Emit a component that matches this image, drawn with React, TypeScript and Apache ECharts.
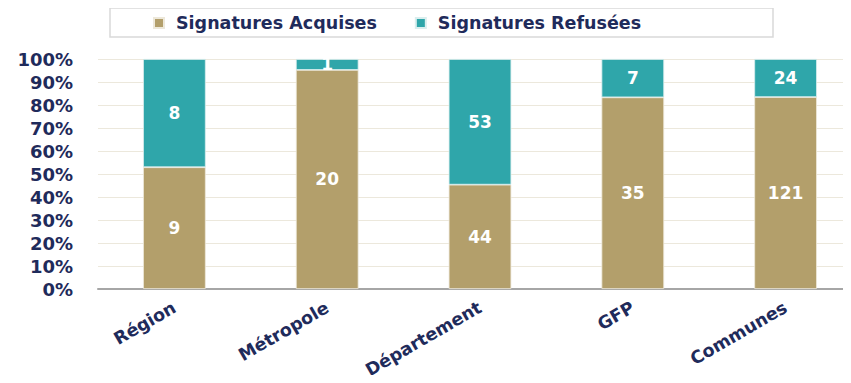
import React, { useEffect, useRef } from "react";
import * as echarts from "echarts";

const categories = ["Région", "Métropole", "Département", "GFP", "Communes"];
const acquises = [9, 20, 44, 35, 121];
const refusees = [8, 1, 53, 7, 24];
const yTicks = [0, 10, 20, 30, 40, 50, 60, 70, 80, 90, 100];
const seriesNames = ["Signatures Acquises", "Signatures Refusées"];

const NAVY = "#1F2B5B";
const TAN = "#B39F6B";
const TEAL = "#2FA6AA";
const FONT = "DejaVu Sans";

export default function App() {
  const ref = useRef<HTMLDivElement>(null);
  useEffect(() => {
    if (!ref.current) return;
    const chart = echarts.init(ref.current, undefined, { renderer: "svg" });
    const totals = acquises.map((a, i) => a + refusees[i]);
    const pct = (arr: number[]) => arr.map((v, i) => (v / totals[i]) * 100);
    const labelCfg = (arr: number[]) => ({
      show: true,
      position: "inside" as const,
      color: "#FFFFFF",
      fontFamily: FONT,
      fontWeight: "bold" as const,
      fontSize: 17,
      overflow: "none" as const,
      formatter: (p: any) => String(arr[p.dataIndex]),
    });
    chart.setOption({
      animation: false,
      backgroundColor: "#FFFFFF",
      graphic: [
        {
          type: "rect",
          shape: { x: 110, y: 8, width: 663, height: 29 },
          style: { fill: "none", stroke: "#D9D9D9", lineWidth: 1.5 },
          z: -1,
        },
      ],
      legend: {
        left: 148,
        top: 9,
        icon: "rect",
        itemWidth: 10,
        itemHeight: 10,
        itemGap: 38,
        data: seriesNames,
        textStyle: {
          color: NAVY,
          fontFamily: FONT,
          fontWeight: "bold",
          fontSize: 17.5,
          padding: [0, 0, 0, 7],
        },
      },
      grid: { left: 98, top: 59, width: 764, height: 230, containLabel: false },
      xAxis: {
        type: "category",
        data: categories,
        axisLine: { show: true, lineStyle: { color: "#A6A6A6", width: 2 } },
        axisTick: { show: false },
        axisLabel: {
          rotate: 30,
          interval: 0,
          margin: 17,
          color: NAVY,
          fontFamily: FONT,
          fontWeight: "bold",
          fontSize: 17.5,
        },
      },
      yAxis: {
        type: "value",
        min: 0,
        max: 100,
        interval: 10,
        axisLine: { show: false },
        axisTick: { show: false },
        splitLine: { show: true, lineStyle: { color: "#ECE8DC", width: 1 } },
        axisLabel: {
          margin: 25,
          color: NAVY,
          fontFamily: FONT,
          fontWeight: "bold",
          fontSize: 18,
          formatter: (v: number) => (yTicks.includes(v) ? v + "%" : ""),
        },
      },
      series: [
        {
          name: seriesNames[0],
          type: "bar",
          stack: "total",
          barWidth: "41%",
          clip: false,
          data: pct(acquises),
          itemStyle: { color: TAN, borderColor: "#EDE8DA", borderWidth: 0.8 },
          label: labelCfg(acquises),
        },
        {
          name: seriesNames[1],
          type: "bar",
          stack: "total",
          barWidth: "41%",
          clip: false,
          z: 3,
          data: pct(refusees),
          itemStyle: { color: TEAL, borderColor: "#D9EEEE", borderWidth: 0.8 },
          label: labelCfg(refusees),
        },
      ],
    });
    return () => chart.dispose();
  }, []);
  return (
    <div style={{ width: 851, height: 383, margin: -8, overflow: "hidden" }}>
      <div ref={ref} style={{ width: 880, height: 383 }} />
    </div>
  );
}
